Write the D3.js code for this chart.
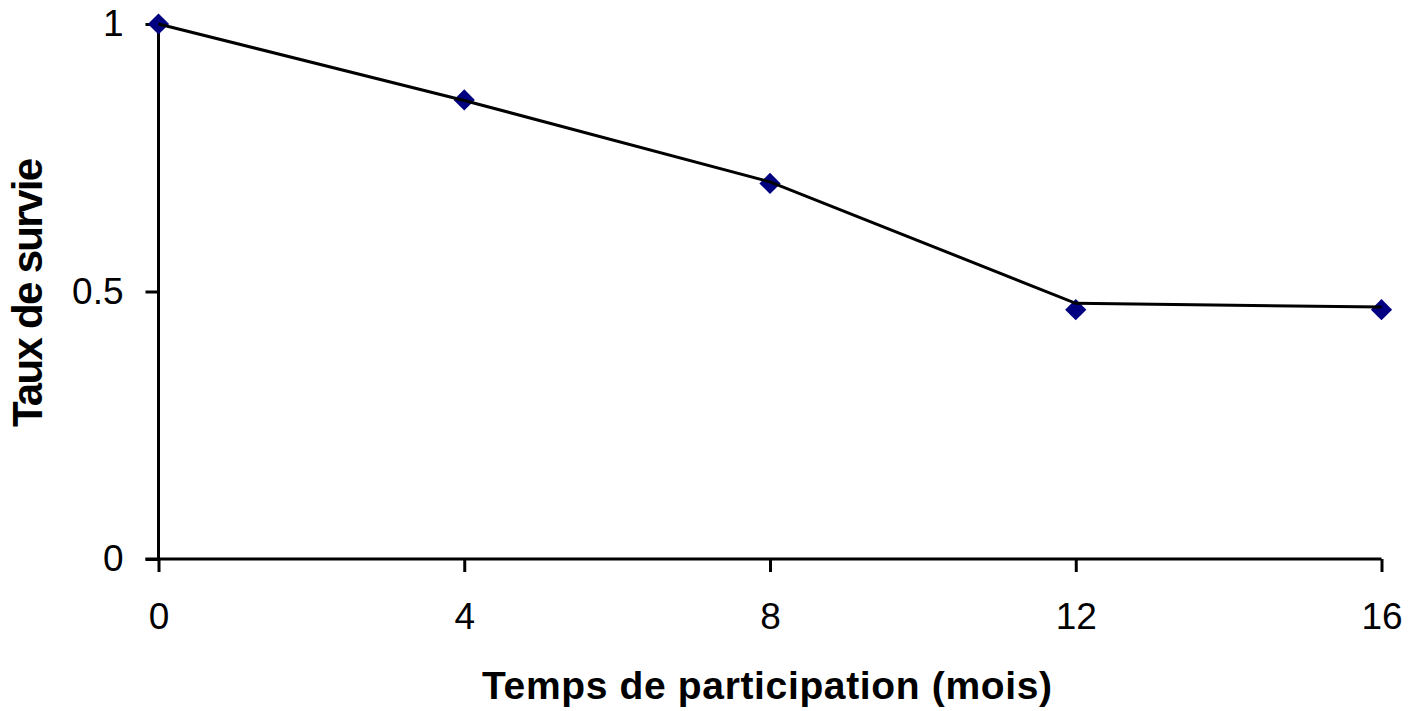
<!DOCTYPE html>
<html><head><meta charset="utf-8">
<script src="https://cdn.jsdelivr.net/npm/d3@7"></script>
<style>html,body{margin:0;padding:0;background:#fff;}</style>
</head><body>
<svg id="c" width="1408" height="711"></svg>
<script>
const months = [0, 4, 8, 12, 16];
const lineValues = [1.0, 0.857, 0.705, 0.478, 0.471];
const markerValues = [1.0, 0.858, 0.702, 0.466, 0.466];
const xTicks = [0, 4, 8, 12, 16];
const yTicks = [0, 0.5, 1];
const yTickLabels = ["0", "0.5", "1"];
const xTitle = "Temps de participation (mois)";
const yTitle = "Taux de survie";

const svg = d3.select("#c");
const x = d3.scaleLinear().domain([0, 16]).range([158.5, 1381.5]);
const y = d3.scaleLinear().domain([0, 1]).range([559, 24]);
const font = "Liberation Sans, Arial, sans-serif";

// y axis
const yAxis = svg.append("g").attr("transform", `translate(${x(0)},0)`)
  .call(d3.axisLeft(y).tickValues(yTicks).tickSize(13).tickPadding(22)
    .tickFormat((d, i) => yTickLabels[i]));
yAxis.select(".domain").attr("stroke", "#000").attr("stroke-width", 3).attr("d", `M0,${y(1)}V${y(0)}`);
yAxis.selectAll(".tick line").attr("stroke", "#000").attr("stroke-width", 3);
yAxis.selectAll(".tick text").attr("font-family", font).attr("font-size", 37).attr("fill", "#000");

// x axis
const xAxis = svg.append("g").attr("transform", `translate(0,${y(0)})`)
  .call(d3.axisBottom(x).tickValues(xTicks).tickSize(13).tickPadding(31).tickFormat(d3.format("d")));
xAxis.select(".domain").attr("stroke", "#000").attr("stroke-width", 3).attr("d", `M${x(0) - 13},0H${x(16)}`);
xAxis.selectAll(".tick line").attr("stroke", "#000").attr("stroke-width", 3);
xAxis.selectAll(".tick text").attr("font-family", font).attr("font-size", 37).attr("fill", "#000");
svg.selectAll(".domain").attr("fill", "none");

// markers
const diamond = d3.symbol().type(d3.symbolSquare).size(15 * 15);
svg.append("g").selectAll("path").data(months).join("path")
  .attr("d", diamond)
  .attr("transform", (d, i) => `translate(${x(d)},${y(markerValues[i])}) rotate(45)`)
  .attr("fill", "#000080");

// line
const line = d3.line().x((d, i) => x(months[i])).y(d => y(d));
svg.append("path").datum(lineValues).attr("d", line)
  .attr("fill", "none").attr("stroke", "#000").attr("stroke-width", 3);

// titles
svg.append("text").attr("x", 767).attr("y", 699).attr("text-anchor", "middle")
  .attr("font-family", font).attr("font-weight", "bold").attr("font-size", 39)
  .attr("textLength", 570).attr("lengthAdjust", "spacing")
  .text(xTitle);
svg.append("text").attr("transform", "translate(42,292.5) rotate(-90)").attr("text-anchor", "middle")
  .attr("font-family", font).attr("font-weight", "bold").attr("font-size", 42)
  .attr("textLength", 269).attr("lengthAdjust", "spacing")
  .text(yTitle);
</script>
</body></html>
